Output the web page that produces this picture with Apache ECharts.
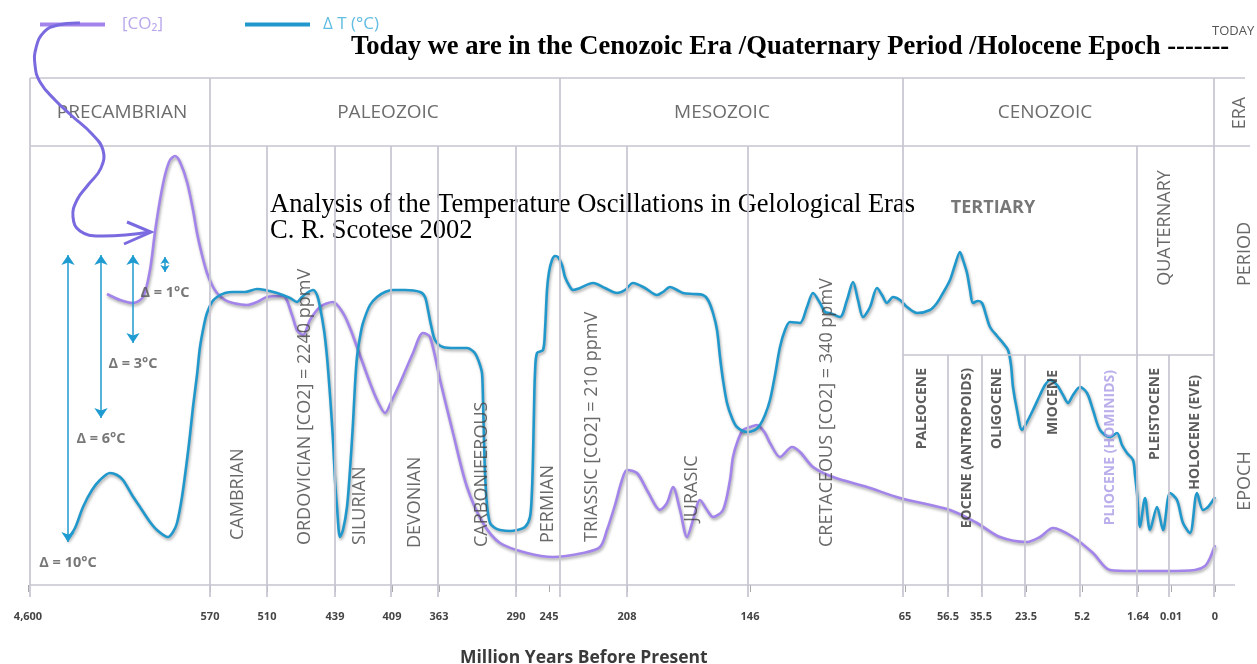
<!DOCTYPE html>
<html>
<head>
<meta charset="utf-8">
<script src="https://cdn.jsdelivr.net/npm/echarts@6/dist/echarts.min.js"></script>
<style>
html,body{margin:0;padding:0;background:#ffffff;}
#chart{width:1257px;height:664px;}
</style>
</head>
<body>
<div id="chart"></div>
<script>
// x = position along the (non-linear) geological time axis, y = relative level (arbitrary units)
const xTickLabels = ['4,600','570','510','439','409','363','290','245','208','146','65','56.5','35.5','23.5','5.2','1.64','0.01','0'];
const xTickPos = [28,210,267,335,392,439,516,549,627,750,905,948,981,1026,1082,1138,1171,1215];

const eraBounds = [30,210,560,903,1214];
const periodBounds = [267,335,391,438,516,627,748,1137];
const epochBounds = [948,982,1025,1080,1169];

const eraNames = ['PRECAMBRIAN','PALEOZOIC','MESOZOIC','CENOZOIC'];
const eraLabelAt = [[122,472],[388,472],[722,472],[1045,472]];

const periodNames = ['CAMBRIAN','ORDOVICIAN [CO2] = 2240 ppmV','SILURIAN','DEVONIAN','CARBONIFEROUS','PERMIAN','TRIASSIC [CO2] = 210 ppmV','JURASIC','CRETACEOUS [CO2] = 340 ppmV'];
const periodLabelAt = [[238,45],[305,40],[360,40],[415,37],[482,38],[548,42],[592,43],[692,63],[827,38]];

const epochNames = ['PALEOCENE','EOCENE (ANTROPOIDS)','OLIGOCENE','MIOCENE','PLIOCENE (HOMINIDS)','PLEISTOCENE','HOLOCENE (EVE)'];
const epochLabelAt = [[922,217],[967,217],[997,217],[1053,215],[1110,215],[1155,217],[1195,210]];

const cenozoicPeriods = ['TERTIARY','QUATERNARY'];
const cenozoicPeriodAt = [[993,377],[1165,357]];

const rowNames = ['ERA','PERIOD','EPOCH'];
const rowNameAt = [[1240,472],[1245,331],[1245,104]];

const deltaLabels = ['Δ = 10°C','Δ = 6°C','Δ = 3°C','Δ = 1°C'];
const deltaX = [68,101,133,165];
const deltaTop = [330,330,330,328];
const deltaBottom = [43,167,242,313];

const co2Level = [
[107,291],[120,285],[133,282],[143,288],[150,315],[155,353],[160,385],[165,410],[170,425],[175,429],
[180,423],[187,403],[193,375],[197,352],[202,330],[207,312],[212,300],[217,292],[225,285],[233,282],
[247,280],[257,283],[267,288],[283,289],[292,270],[297,255],[303,250],[310,265],[320,278],[333,283],
[343,272],[350,257],[357,238],[370,202],[378,183],[385,172],[392,185],[400,202],[413,232],[423,252],
[430,248],[440,205],[453,152],[467,98],[483,62],[500,42],[527,32],[553,28],[583,32],[600,38],
[607,55],[615,80],[622,105],[627,115],[637,112],[648,93],[660,75],[667,82],[673,98],[680,75],
[687,48],[693,65],[700,85],[707,75],[713,68],[723,75],[730,105],[733,128],[738,145],[743,155],
[750,158],[757,160],[765,152],[770,142],[780,128],[792,138],[800,133],[813,118],[833,108],[867,98],
[900,87],[950,75],[977,62],[1000,48],[1027,43],[1040,48],[1053,57],[1073,48],[1093,32],[1110,15],
[1133,14],[1167,14],[1195,15],[1205,19],[1210,27],[1215,40]
];

const tempLevel = [
[67,45],[75,57],[83,78],[92,95],[100,105],[110,112],[117,110],[123,105],[132,90],[140,78],
[150,63],[157,55],[168,48],[173,53],[177,62],[182,88],[187,125],[190,150],[193,178],[197,210],
[200,238],[204,260],[207,272],[212,283],[217,288],[225,292],[233,293],[245,293],[257,296],[265,295],
[277,292],[290,287],[297,283],[302,288],[307,292],[313,295],[317,290],[320,278],[324,255],[327,228],
[330,190],[333,145],[335,105],[337,78],[340,48],[343,55],[347,78],[350,115],[353,162],[355,200],
[357,228],[360,248],[363,262],[370,280],[377,288],[385,293],[393,295],[405,295],[420,293],[425,288],
[428,275],[431,260],[435,245],[443,238],[455,237],[467,237],[474,233],[477,228],[480,220],[482,212],
[483,185],[484,145],[485,112],[487,80],[490,62],[495,57],[500,55],[510,54],[517,55],[525,58],
[530,68],[532,95],[533,128],[534,175],[535,212],[537,232],[543,235],[545,255],[547,295],[549,313],
[552,325],[555,329],[558,328],[562,320],[565,308],[570,298],[573,295],[580,297],[593,302],[605,297],
[617,292],[625,295],[633,302],[645,297],[657,290],[663,293],[670,298],[677,295],[683,292],[693,291],
[703,290],[708,285],[713,272],[717,255],[720,228],[723,205],[727,182],[732,167],[737,158],[747,153],
[755,155],[760,160],[765,170],[770,185],[775,210],[780,238],[785,255],[790,263],[800,262],[807,278],
[813,292],[820,282],[825,273],[830,272],[840,268],[847,285],[853,303],[858,285],[863,268],[870,278],
[877,297],[882,290],[887,282],[893,288],[900,285],[907,278],[917,272],[930,275],[937,282],[943,292],
[950,305],[955,320],[960,333],[963,325],[967,312],[970,295],[973,282],[978,284],[982,282],[986,270],
[990,258],[997,249],[1003,242],[1008,235],[1011,220],[1013,198],[1017,175],[1022,155],[1027,163],[1033,175],
[1040,190],[1045,200],[1050,205],[1057,200],[1063,190],[1068,182],[1073,190],[1080,198],[1087,192],[1093,175],
[1100,155],[1110,148],[1117,152],[1122,140],[1127,132],[1133,125],[1135,110],[1137,92],[1140,58],[1145,87],
[1150,55],[1157,78],[1163,55],[1170,92],[1177,85],[1183,62],[1190,52],[1197,92],[1203,75],[1208,78],
[1215,88]
];

// ---- build options ----
const Y_TOP = 507, Y_ERA = 439, Y_EPOCH = 230, Y_BOTTOM = 0, Y_END = -12;
const tableLines = [];
eraBounds.forEach(x => tableLines.push([{coord:[x, Y_TOP]},{coord:[x, Y_END]}]));
periodBounds.forEach(x => tableLines.push([{coord:[x, Y_ERA]},{coord:[x, Y_END]}]));
epochBounds.forEach(x => tableLines.push([{coord:[x, Y_EPOCH]},{coord:[x, Y_END]}]));
tableLines.push([{coord:[30, Y_TOP]},{coord:[1245, Y_TOP]}]);
tableLines.push([{coord:[30, Y_ERA]},{coord:[1250, Y_ERA]}]);
tableLines.push([{coord:[903, Y_EPOCH]},{coord:[1214, Y_EPOCH]}]);
tableLines.push([{coord:[30, Y_BOTTOM]},{coord:[1235, Y_BOTTOM]}]);

const deltaLines = deltaX.map((x,i) => [
  {coord:[x, deltaTop[i]], symbolSize: i === 3 ? 7 : 10},
  {coord:[x, deltaBottom[i]], symbolSize: i === 3 ? 7 : 10}
]);

function labelSeries(names, pos, label, extra) {
  return Object.assign({
    type:'scatter', silent:true, animation:false, symbolSize:1, z:5,
    itemStyle:{color:'rgba(0,0,0,0)'},
    emphasis:{disabled:true},
    data: names.map((n,i) => ({name:n, value:pos[i]})),
    label: Object.assign({show:true, position:'inside', formatter:'{b}', fontFamily:'Open Sans'}, label)
  }, extra || {});
}

const lineShadow = {shadowColor:'rgba(0,0,0,0.35)', shadowBlur:3, shadowOffsetX:1, shadowOffsetY:2};

const option = {
  backgroundColor:'#ffffff',
  animation:false,
  grid:{left:28, right:7, top:78, bottom:67, containLabel:false},
  legend:[
    {data:['[CO₂]'], left:35, top:11, icon:'rect', itemWidth:65, itemHeight:4, selectedMode:false,
     textStyle:{color:'#b9a7ec', fontSize:17, fontFamily:'Open Sans', padding:[0,0,0,12]}},
    {data:['Δ T (°C)'], left:240, top:11, icon:'rect', itemWidth:65, itemHeight:4, selectedMode:false,
     textStyle:{color:'#62bde0', fontSize:17, fontFamily:'Open Sans', padding:[0,0,0,8]}}
  ],
  title:[
    {text:'Million Years Before Present', left:455, top:644,
     textStyle:{fontFamily:'Open Sans', fontSize:17.5, fontWeight:'bold', color:'#3a3a3a'}}
  ],
  xAxis:{
    type:'value', min:28, max:1250,
    axisLine:{show:false}, splitLine:{show:false},
    axisTick:{show:true, customValues:xTickPos, length:7, lineStyle:{color:'#aaa', width:1}},
    axisLabel:{show:true, customValues:xTickPos, margin:14, fontSize:11, fontWeight:'bold',
      color:'#444', fontFamily:'Open Sans',
      formatter: v => { const i = xTickPos.indexOf(v); return i >= 0 ? xTickLabels[i] : ''; }}
  },
  yAxis:{type:'value', min:-12, max:507, show:false, splitLine:{show:false}},
  graphic:[
    {type:'text', x:351, y:47, style:{text:'Today we are in the Cenozoic Era /Quaternary Period /Holocene Epoch -------',
      fontFamily:'Liberation Serif', fontWeight:'bold', fontSize:26.6, fill:'#000', verticalAlign:'middle'}},
    {type:'text', x:1212, y:31, style:{text:'TODAY', fontFamily:'Open Sans', fontSize:13, fill:'#555', verticalAlign:'middle'}},
    {type:'text', x:270, y:205, style:{text:'Analysis of the Temperature Oscillations in Gelological Eras',
      fontFamily:'Liberation Serif', fontSize:26.5, fill:'#000', verticalAlign:'middle'}},
    {type:'text', x:270, y:231, style:{text:'C. R. Scotese 2002',
      fontFamily:'Liberation Serif', fontSize:26.5, fill:'#000', verticalAlign:'middle'}},
    {type:'polyline', z:10, shape:{smooth:0.45, points:[[80,23],[58,25],[44,32],[36,48],[35,65],[40,82],[55,100],[72,116],[92,134],[103,150],[101,168],[88,185],[77,200],[73,217],[80,231],[100,236],[150,232]]},
      style:{stroke:'#7a6ae0', lineWidth:3, fill:null}},
    {type:'polyline', z:10, shape:{points:[[127,222],[151,232],[124,244]]},
      style:{stroke:'#7a6ae0', lineWidth:3, fill:null}}
  ],
  series:[
    {type:'line', name:'table', data:[], silent:true, z:1, clip:false,
     markLine:{silent:true, symbol:'none', animation:false, label:{show:false},
       lineStyle:{color:'#c6c5d1', width:1.7, type:'solid'}, emphasis:{disabled:true}, data:tableLines}},
    {type:'line', name:'delta', data:[], silent:true, z:2, clip:false,
     markLine:{silent:true, symbol:['arrow','arrow'], animation:false, label:{show:false},
       lineStyle:{color:'#1e9bd0', width:1.5, type:'solid'}, emphasis:{disabled:true}, data:deltaLines}},
    {type:'line', name:'[CO₂]', data:co2Level, smooth:0.3, showSymbol:false, z:3, color:'#a384ea',
     lineStyle:Object.assign({width:2.6, color:'#a384ea'}, lineShadow)},
    {type:'line', name:'Δ T (°C)', data:tempLevel, smooth:0.3, showSymbol:false, z:4, color:'#2198cc',
     lineStyle:Object.assign({width:2.6, color:'#2198cc'}, lineShadow)},
    labelSeries(eraNames, eraLabelAt, {fontSize:19, color:'#474747', align:'center', verticalAlign:'middle'}),
    labelSeries(periodNames, periodLabelAt, {fontSize:18, color:'#444', rotate:90, align:'left', verticalAlign:'middle'}),
    labelSeries(epochNames, epochLabelAt, {fontSize:14, fontWeight:'bold', color:'#333', rotate:90, align:'right', verticalAlign:'middle'}),
    labelSeries(cenozoicPeriods, cenozoicPeriodAt, {fontSize:18, color:'#444', align:'center', verticalAlign:'middle'}),
    labelSeries(rowNames, rowNameAt, {fontSize:18, color:'#444', rotate:90, align:'center', verticalAlign:'middle'}),
    labelSeries(deltaLabels, deltaX.map((x,i) => [x, deltaBottom[i]-21]), {fontSize:14.5, fontWeight:'bold', color:'#555', align:'center', verticalAlign:'middle'})
  ]
};
// individual label tweaks
option.series[6].data[4].label = {color:'#a99be6'};
option.series[7].data[0].label = {fontWeight:'bold', color:'#555'};
option.series[7].data[1].label = {rotate:90};

const chart = echarts.init(document.getElementById('chart'));
chart.setOption(option);
</script>
</body>
</html>
